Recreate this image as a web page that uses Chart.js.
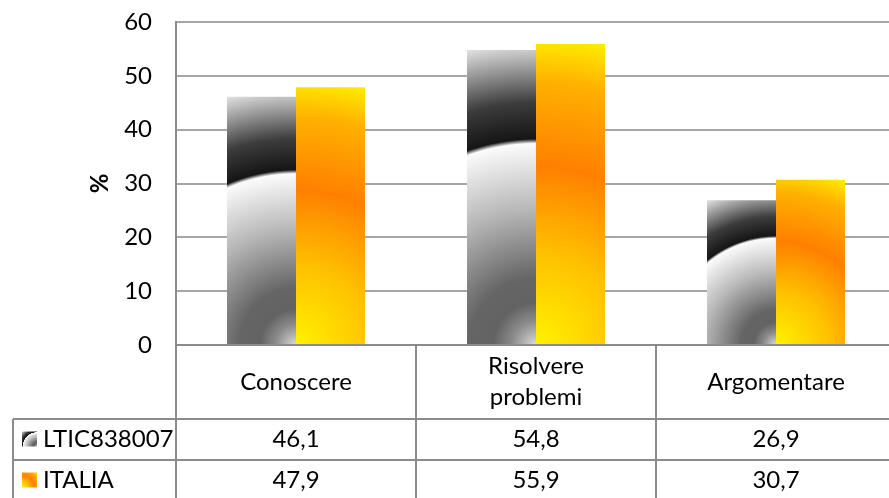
<!DOCTYPE html>
<html>
<head>
<meta charset="utf-8">
<script src="https://cdn.jsdelivr.net/npm/chart.js@4.4.0/dist/chart.umd.min.js"></script>
<style>
  html, body { margin: 0; padding: 0; background: #fff; overflow: hidden; }
  #wrap { width: 900px; height: 498px; }
</style>
</head>
<body>
<div id="wrap"><canvas id="chart"></canvas></div>
<script>
const categories = ['Conoscere', ['Risolvere', 'problemi'], 'Argomentare'];
const seriesNames = ['LTIC838007', 'ITALIA'];
const lticValues = [46.1, 54.8, 26.9];
const italiaValues = [47.9, 55.9, 30.7];
const yMin = 0, yMax = 60, yStep = 10;

const FONT = 'Lato';
const FONT_SIZE = 24;
const lineColor = '#8c8c8c';
const CAT_PCT = 0.575;

// geometry of one bar, taken from the scales
function barRect(chart, di, i, value) {
    const x = chart.scales.x, y = chart.scales.y;
    const catW = x.getPixelForValue(1) - x.getPixelForValue(0);
    const w = catW * CAT_PCT / 2;
    const c = x.getPixelForValue(i);
    const l = di === 0 ? c - w : c;
    return { l: l, r: l + w, t: y.getPixelForValue(value), b: y.getPixelForValue(0) };
}

function grayFill(ctx, l, r, t, b) {
    const d = Math.hypot(r - l, b - t);
    const g = ctx.createRadialGradient(r, b, 0, r, b, d);
    g.addColorStop(0, '#dadada');
    g.addColorStop(0.08, '#8a8a8a');
    g.addColorStop(0.14, '#636363');
    g.addColorStop(0.22, '#656565');
    g.addColorStop(0.45, '#b8b8b8');
    g.addColorStop(0.665, '#fbfbfb');
    g.addColorStop(0.68, '#151515');
    g.addColorStop(0.8, '#3c3c3c');
    g.addColorStop(1, '#e2e2e2');
    return g;
}

function orangeFill(ctx, l, r, t, b) {
    const d = Math.hypot(r - l, b - t);
    const g = ctx.createRadialGradient(l, b, 0, l, b, d);
    g.addColorStop(0, '#fff200');
    g.addColorStop(0.3, '#ffc000');
    g.addColorStop(0.58, '#ff8000');
    g.addColorStop(0.85, '#ffb000');
    g.addColorStop(1, '#ffee00');
    return g;
}

function fillFor(di) {
    return function (c) {
        const chart = c.chart;
        if (c.type !== 'data' || !chart.chartArea) return di === 0 ? '#808080' : '#ffa000';
        const rc = barRect(chart, di, c.dataIndex, c.raw);
        const f = di === 0 ? grayFill : orangeFill;
        return f(chart.ctx, rc.l, rc.r, rc.t, rc.b);
    };
}

const fmt = v => v.toFixed(1).replace('.', ',');

const dataTable = {
    id: 'dataTable',
    afterDraw(chart) {
        const { ctx, chartArea: a, scales: { x } } = chart;
        const catW = x.getPixelForValue(1) - x.getPixelForValue(0);
        const top = a.bottom;
        const r1 = top + 74, r2 = r1 + 41, r3 = r2 + 41;
        const tableLeft = 13;
        ctx.save();
        ctx.strokeStyle = lineColor;
        ctx.lineWidth = 2;
        ctx.beginPath();
        ctx.moveTo(a.left, top); ctx.lineTo(a.right, top);
        ctx.moveTo(tableLeft, r1); ctx.lineTo(a.right, r1);
        ctx.moveTo(tableLeft, r2); ctx.lineTo(a.right, r2);
        ctx.moveTo(tableLeft, r3); ctx.lineTo(a.right, r3);
        ctx.moveTo(tableLeft, r1); ctx.lineTo(tableLeft, r3);
        for (let i = 0; i <= categories.length; i++) {
            const bx = x.getPixelForValue(i) - catW / 2;
            ctx.moveTo(bx, top); ctx.lineTo(bx, r3);
        }
        ctx.stroke();

        ctx.fillStyle = '#000';
        ctx.font = FONT_SIZE + 'px ' + FONT;
        ctx.textAlign = 'center';
        ctx.textBaseline = 'middle';
        categories.forEach((cat, i) => {
            const cx = x.getPixelForValue(i);
            const lines = Array.isArray(cat) ? cat : [cat];
            const lh = 31;
            const y0 = (top + r1) / 2 - (lines.length - 1) * lh / 2;
            lines.forEach((t, k) => ctx.fillText(t, cx, y0 + k * lh));
            ctx.fillText(fmt(lticValues[i]), cx, (r1 + r2) / 2);
            ctx.fillText(fmt(italiaValues[i]), cx, (r2 + r3) / 2);
        });

        // series names with key squares
        const rows = [(r1 + r2) / 2, (r2 + r3) / 2];
        ctx.textAlign = 'left';
        rows.forEach((ry, k) => {
            const l = 22, t = ry - 8, s = 15;
            ctx.fillStyle = k === 0 ? grayFill(ctx, l, l + s, t, t + s) : orangeFill(ctx, l, l + s, t, t + s);
            ctx.fillRect(l, t, s, s);
            ctx.fillStyle = '#000';
            ctx.fillText(seriesNames[k], 43, ry);
        });
        ctx.restore();
    }
};

new Chart(document.getElementById('chart'), {
    type: 'bar',
    data: {
        labels: categories,
        datasets: [
            { label: seriesNames[0], data: lticValues, backgroundColor: fillFor(0), borderWidth: 0 },
            { label: seriesNames[1], data: italiaValues, backgroundColor: fillFor(1), borderWidth: 0 }
        ]
    },
    options: {
        responsive: true,
        maintainAspectRatio: false,
        animation: false,
        layout: { padding: { top: 22, right: 4, left: 0, bottom: 0 } },
        datasets: { bar: { barPercentage: 1, categoryPercentage: CAT_PCT } },
        plugins: { legend: { display: false }, tooltip: { enabled: false } },
        scales: {
            x: {
                grid: { display: false },
                border: { display: false },
                ticks: { display: false },
                afterFit: s => { s.height = 153; }
            },
            y: {
                min: yMin,
                max: yMax,
                ticks: { stepSize: yStep, padding: 0, color: '#000', font: { family: FONT, size: FONT_SIZE } },
                grid: { color: '#a6a6a6', lineWidth: 2, drawTicks: true, tickLength: 24, tickColor: 'rgba(0,0,0,0)' },
                border: { color: lineColor, width: 2 },
                title: { display: true, text: '%', color: '#000', font: { family: FONT, size: FONT_SIZE, weight: 'bold' }, padding: { top: 86, bottom: 0 } },
                afterFit: s => { s.width = 176; }
            }
        }
    },
    plugins: [dataTable]
});
</script>
</body>
</html>
